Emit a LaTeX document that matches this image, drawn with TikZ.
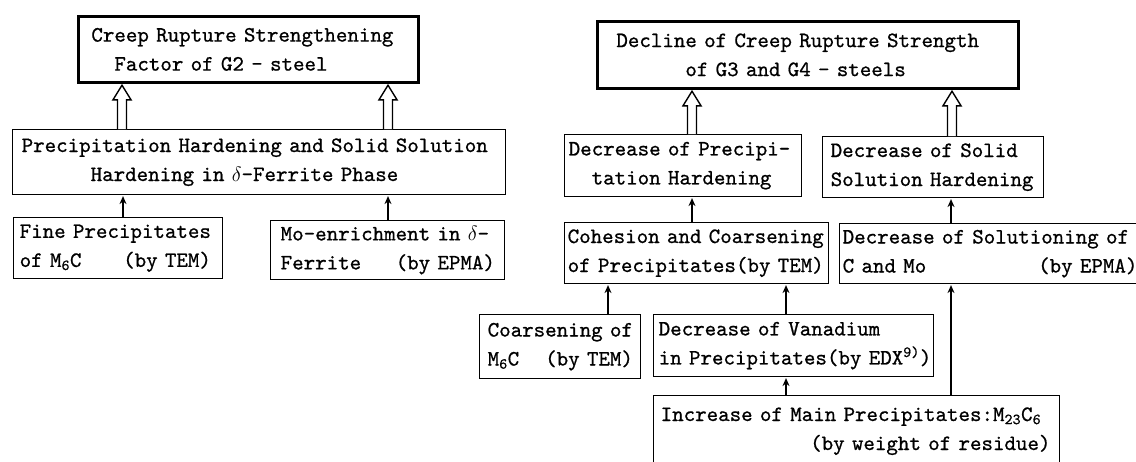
\documentclass[tikz,border=0pt]{standalone}
\usepackage{fontspec}
\newfontfamily\tw{lmmono10-regular.otf}[FakeBold=0.8]
\usetikzlibrary{arrows.meta,calc}
\tikzset{
  box/.style={draw, line width=1.4pt, rectangle, anchor=north west, inner ysep=0pt, align=left,
              font=\tw\fontsize{21.9}{29}\selectfont},
  topbox/.style={box, line width=2.8pt},
  arr/.style={line width=1.5pt, -{Stealth[length=8pt,width=7pt]}},
  hol/.style={draw, line width=1.4pt, fill=white, line join=miter},
}
\newcommand\hollowup[3]{\draw[hol] let \p1=(#2.north), \p2=(#3.south) in
  (#1pt-4.5pt,\y1) -- (#1pt-4.5pt,\y2-16pt) -- (#1pt-9pt,\y2-16pt) -- (#1pt,\y2-1.4pt)
  -- (#1pt+9pt,\y2-16pt) -- (#1pt+4.5pt,\y2-16pt) -- (#1pt+4.5pt,\y1);}
\newcommand\upar[3]{\draw[arr] let \p1=(#2.north), \p2=(#3.south) in (#1pt,\y1) -- (#1pt,\y2-0.7pt);}
% one unbreakable text line
\newcommand\tline[1]{\leavevmode\hbox{#1}}
% column helpers: text laid over n blank characters
\newcommand\col[2]{\hbox to 0pt{#2\hss}\hbox{\phantom{#1}}}
\newcommand\ind[1]{\hbox{\phantom{#1}}}
\newcommand\dlt{$\delta$}
\begin{document}
\begin{tikzpicture}[x=1pt,y=-1pt]
\useasboundingbox (0,0) rectangle (1136,461);
\clip (0,0) rectangle (1136,461);
% left side
\node[topbox, inner xsep=13pt, text width=314pt, minimum height=66pt] (b1) at (77,15)
  {\tline{Creep Rupture Strengthening}\\\tline{\ind{xx}Factor of G2 - steel}};
\node[box, inner xsep=9pt, text width=475pt, minimum height=65pt] (b2) at (12,129)
  {\tline{Precipitation Hardening and Solid Solution}\\\tline{\ind{xxxxxx}Hardening in \dlt-Ferrite Phase}};
\node[box, inner xsep=6pt, text width=197pt, minimum height=61pt] (b3) at (13,217)
  {\tline{Fine Precipitates}\\\tline{\col{xxxxxxxxx}{of M\textsubscript{6}C}(by TEM)}};
\node[box, inner xsep=10pt, text width=214pt, minimum height=59pt] (b4) at (270,220)
  {\tline{Mo-enrichment in \dlt-}\\\tline{\col{xxxxxxxxxx}{Ferrite}(by EPMA)}};
% right side
\node[topbox, inner xsep=19pt, text width=383pt, minimum height=67pt] (b5) at (596,20)
  {\tline{Decline of Creep Rupture Strength}\\\tline{\ind{xxxxxx}of G3 and G4 - steels}};
\node[box, inner xsep=4pt, text width=229pt, minimum height=62pt] (b6) at (564,134)
  {\tline{Decrease of Precipi-}\\\tline{\ind{xx}tation Hardening}};
\node[box, inner xsep=8pt, text width=205pt, minimum height=61pt] (b7) at (822,136)
  {\tline{Decrease of Solid}\\\tline{Solution Hardening}};
\node[box, inner xsep=3pt, text width=258pt, minimum height=61pt] (b8) at (564,222)
  {\tline{Cohesion and Coarsening}\\\tline{of Precipitates(by TEM)}};
\node[box, inner xsep=3pt, text width=304pt, minimum height=60pt] (b9) at (839,223)
  {\tline{Decrease of Solutioning of}\\\tline{\col{xxxxxxxxxxxxxxxxx}{C and Mo}(by EPMA)}};
\node[box, inner xsep=8pt, text width=145pt, minimum height=64pt] (b10) at (479,314)
  {\tline{Coarsening of}\\\tline{\col{xxxxx}{M\textsubscript{6}C}(by TEM)}};
\node[box, inner xsep=5pt, text width=270pt, minimum height=62pt] (b11) at (653,314)
  {\tline{Decrease of Vanadium}\\\tline{in Precipitates(by EDX\textsuperscript{9)})}};
\node[box, inner xsep=7pt, text width=392pt, minimum height=71pt] (b12) at (653,395)
  {\tline{Increase of Main Precipitates:M\textsubscript{23}C\textsubscript{6}}\\\tline{\ind{xxxxxxxxxxxxx}(by weight of residue)}};
% connectors
\hollowup{122}{b2}{b1}
\hollowup{388}{b2}{b1}
\upar{123}{b3}{b2}
\upar{388}{b4}{b2}
\hollowup{692}{b6}{b5}
\hollowup{952}{b7}{b5}
\upar{692}{b8}{b6}
\upar{951}{b9}{b7}
\upar{608}{b10}{b8}
\upar{786}{b11}{b8}
\upar{786}{b12}{b11}
\upar{951}{b12}{b9}
\end{tikzpicture}
\end{document}
